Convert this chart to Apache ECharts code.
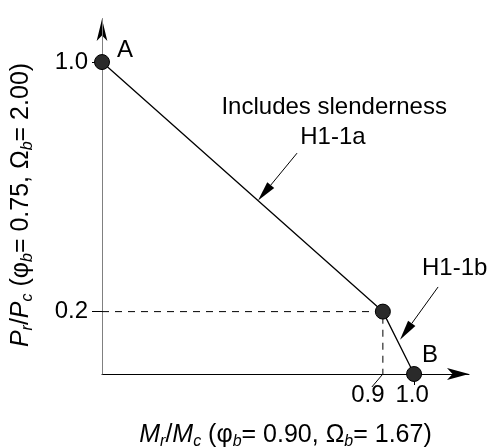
<!DOCTYPE html>
<html>
<head>
<meta charset="utf-8">
<script src="https://cdn.jsdelivr.net/npm/echarts@6/dist/echarts.min.js"></script>
<style>html,body{margin:0;padding:0;background:#fff}#c{width:488px;height:448px}</style>
</head>
<body>
<div id="c"></div>
<script>
// ---- data ----
const interactionX = [0, 0.9, 1.0];
const interactionY = [1.0, 0.2, 0];
const xTicks = [0.9, 1.0];
const yTicks = [0.2, 1.0];
const guideX = [0, 0.9, 0.9];
const guideY = [0.2, 0.2, 0];
// annotation arrows: tail and tip
const arrowTailX = [0.625, 1.077];
const arrowTailY = [0.708, 0.279];
const arrowTipX = [0.5, 0.955];
const arrowTipY = [0.556, 0.11];
// annotation texts
const noteTexts = ['Includes slenderness', 'H1-1a', 'H1-1b', 'A', 'B'];
const noteX = [0.744, 0.74, 1.13, 0.074, 1.051];
const noteY = [0.854, 0.758, 0.337, 1.038, 0.061];

const FONT = "'Liberation Sans', Arial, sans-serif";
const chart = echarts.init(document.getElementById('c'));

const curve = interactionX.map((x, i) => [x, interactionY[i]]);
const guide = guideX.map((x, i) => [x, guideY[i]]);
const arrows = arrowTailX.map((x, i) => [x, arrowTailY[i], arrowTipX[i], arrowTipY[i]]);
const notes = noteX.map((x, i) => [x, noteY[i]]);

const rich = {
  i: {fontFamily: FONT, fontSize: 25, fontStyle: 'italic', color: '#000', lineHeight: 30},
  s: {fontFamily: FONT, fontSize: 16, fontStyle: 'italic', color: '#000', lineHeight: 16, verticalAlign: 'bottom'},
  n: {fontFamily: FONT, fontSize: 25, color: '#000', lineHeight: 30}
};
const Y_MAX = 1.138;

chart.setOption({
  animation: false,
  grid: {left: 102, right: 19, top: 19, bottom: 74, containLabel: false, outerBoundsMode: 'none'},
  xAxis: {
    type: 'value', min: 0, max: 1.176,
    axisLine: {show: true, lineStyle: {color: '#000', width: 1}, symbol: ['none', 'arrow'], symbolSize: [9, 22]},
    axisTick: {show: true, customValues: [1.0], length: 11, lineStyle: {color: '#000'}},
    axisLabel: {
      customValues: xTicks, margin: 9, color: '#000',
      formatter: v => Math.abs(v - 0.9) < 1e-6 ? '{l|' + v.toFixed(1) + '}' : '{r|' + v.toFixed(1) + '}',
      rich: {
        l: {fontFamily: FONT, fontSize: 24, color: '#000', padding: [0, 30, 0, 0]},
        r: {fontFamily: FONT, fontSize: 24, color: '#000', padding: [0, 4, 0, 0]}
      }
    },
    splitLine: {show: false},
    name: '{i|M}{s|r}{n|/}{i|M}{s|c}{n| (φ}{s|b}{n|= 0.90, Ω}{s|b}{n|= 1.67)}',
    nameLocation: 'middle', nameGap: 46,
    nameTextStyle: {rich: rich}
  },
  yAxis: [{
    type: 'value', min: 0, max: Y_MAX, z: 2,
    axisLine: {show: true, lineStyle: {color: '#808080', width: 1}},
    axisTick: {show: true, customValues: yTicks, length: 10, lineStyle: {color: '#000'}},
    axisLabel: {
      customValues: yTicks, margin: 14, color: '#000',
      formatter: v => '{t|' + v.toFixed(1) + '}',
      rich: {t: {fontFamily: FONT, fontSize: 24, color: '#000'}}
    },
    splitLine: {show: false},
    name: '{i|P}{s|r}{n|/}{i|P}{s|c}{n| (φ}{s|b}{n|= 0.75, Ω}{s|b}{n|= 2.00)}',
    nameLocation: 'middle', nameGap: 66, nameRotate: 90,
    nameTextStyle: {rich: rich, padding: [0, 17, 0, 0]}
  }, {
    type: 'value', min: 0, max: Y_MAX, z: 1, position: 'left',
    axisLine: {show: true, lineStyle: {color: '#000', width: 1}, symbol: ['none', 'arrow'], symbolSize: [8, 22]},
    axisTick: {show: false}, axisLabel: {show: false}, splitLine: {show: false}
  }],
  series: [
    {
      type: 'line', data: guide, symbol: 'none', clip: false, silent: true,
      lineStyle: {color: '#000', width: 1, type: [7, 6]}
    },
    {
      type: 'line', data: curve, clip: false, symbol: 'circle', symbolSize: 15, z: 5,
      lineStyle: {color: '#000', width: 1.3},
      itemStyle: {color: '#2a2a2a', borderColor: '#000', borderWidth: 1}
    },
    {
      type: 'custom', clip: false, data: arrows, z: 6,
      renderItem: function (params, api) {
        const t = api.coord([api.value(0), api.value(1)]);
        const h = api.coord([api.value(2), api.value(3)]);
        const dx = h[0] - t[0], dy = h[1] - t[1];
        const L = Math.hypot(dx, dy), ux = dx / L, uy = dy / L;
        const len = 20, w = 4.5;
        const bx = h[0] - ux * len, by = h[1] - uy * len;
        return {type: 'group', children: [
          {type: 'line', shape: {x1: t[0], y1: t[1], x2: bx, y2: by}, style: {stroke: '#000', lineWidth: 1}},
          {type: 'polygon', shape: {points: [[h[0], h[1]], [bx - uy * w, by + ux * w], [bx + uy * w, by - ux * w]]}, style: {fill: '#000'}}
        ]};
      }
    },
    {
      type: 'custom', clip: false, data: [[xTicks[0], 0]], z: 6,
      renderItem: function (params, api) {
        const p = api.coord([api.value(0), api.value(1)]);
        return {type: 'line', shape: {x1: p[0], y1: p[1], x2: p[0] - 11, y2: p[1] + 13}, style: {stroke: '#000', lineWidth: 1}};
      }
    },
    {
      type: 'custom', clip: false, data: notes, z: 7,
      renderItem: function (params, api) {
        const p = api.coord([api.value(0), api.value(1)]);
        return {type: 'text', x: p[0], y: p[1], style: {
          text: noteTexts[params.dataIndex], fontFamily: FONT, fontSize: 24, fill: '#000',
          align: 'center', verticalAlign: 'middle'
        }};
      }
    }
  ]
});
</script>
</body>
</html>
